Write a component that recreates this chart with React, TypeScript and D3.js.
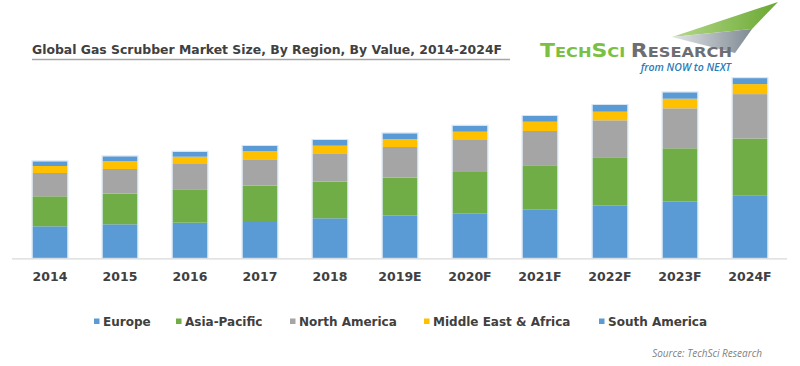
import React, { useEffect, useRef } from "react";
import * as d3 from "d3";

const years = ["2014", "2015", "2016", "2017", "2018", "2019E", "2020F", "2021F", "2022F", "2023F", "2024F"];
const europe = [32, 34, 35.6, 37.3, 40, 42.6, 45, 49, 52.6, 56.6, 62.5];
const asiaPacific = [30, 30.7, 33.4, 35.3, 36.6, 38, 41.3, 44, 48.4, 53.4, 57.3];
const northAmerica = [23.3, 24.6, 25.3, 26.4, 28.4, 30.7, 32, 34.3, 37, 40, 44.4];
const middleEastAfrica = [7, 7.7, 7.3, 8, 7.6, 8, 8.3, 9.3, 8.6, 9.6, 10];
const southAmerica = [4.7, 5, 5, 5.3, 5.7, 5.7, 6, 5.7, 6.7, 6.4, 6];

const seriesNames = ["Europe", "Asia-Pacific", "North America", "Middle East & Africa", "South America"];
const colors = ["#5b9bd5", "#70ad47", "#a5a5a5", "#ffc000", "#5b9bd5"];

const width = 800;
const height = 366;

const App = () => {
  const ref = useRef<SVGSVGElement>(null);

  useEffect(() => {
    const svg = d3.select(ref.current);
    svg.selectAll("*").remove();

    const rows = years.map((y, i) => ({
      year: y,
      "Europe": europe[i],
      "Asia-Pacific": asiaPacific[i],
      "North America": northAmerica[i],
      "Middle East & Africa": middleEastAfrica[i],
      "South America": southAmerica[i],
    }));

    const x = d3.scaleBand().domain(years).range([15, 785]).paddingInner(0.5).paddingOuter(0.25);
    const y = d3.scaleLinear().domain([0, 200]).range([258.3, 58.3]);
    const stack = d3.stack<any>().keys(seriesNames)(rows);

    // title
    svg
      .append("text")
      .attr("x", 32)
      .attr("y", 53.5)
      .attr("font-family", "DejaVu Sans")
      .attr("font-weight", "bold")
      .attr("font-size", 12.5)
      .attr("fill", "#404040")
      .attr("textLength", 470)
      .attr("lengthAdjust", "spacingAndGlyphs")
      .text("Global Gas Scrubber Market Size, By Region, By Value, 2014-2024F");
    svg
      .append("line")
      .attr("x1", 32)
      .attr("x2", 510)
      .attr("y1", 59.5)
      .attr("y2", 59.5)
      .attr("stroke", "#a6a6a6")
      .attr("stroke-width", 1.5);

    // logo
    const defs = svg.append("defs");
    const gg = defs.append("linearGradient").attr("id", "lg-green").attr("x1", 0).attr("x2", 1);
    gg.append("stop").attr("offset", 0).attr("stop-color", "#b5d98a");
    gg.append("stop").attr("offset", 1).attr("stop-color", "#6aa832");
    const gr = defs.append("linearGradient").attr("id", "lg-gray").attr("x1", 0).attr("x2", 1);
    gr.append("stop").attr("offset", 0).attr("stop-color", "#e3e6e8");
    gr.append("stop").attr("offset", 1).attr("stop-color", "#7f8a93");
    svg.append("polygon").attr("points", "672,37 778,2 752,29").attr("fill", "url(#lg-green)");
    svg.append("polygon").attr("points", "672,37 752,29 735,53").attr("fill", "url(#lg-gray)");

    const logo = svg
      .append("text")
      .attr("x", 540)
      .attr("y", 57)
      .attr("font-family", "DejaVu Sans")
      .attr("font-weight", "bold")
      .attr("textLength", 192)
      .attr("lengthAdjust", "spacingAndGlyphs");
    logo.append("tspan").attr("fill", "#7ac143").attr("font-size", 19).text("T");
    logo.append("tspan").attr("fill", "#7ac143").attr("font-size", 14).text("ECH");
    logo.append("tspan").attr("fill", "#7ac143").attr("font-size", 19).text("S");
    logo.append("tspan").attr("fill", "#7ac143").attr("font-size", 14).text("CI ");
    logo.append("tspan").attr("fill", "#6d6e71").attr("font-size", 19).text("R");
    logo.append("tspan").attr("fill", "#6d6e71").attr("font-size", 14).text("ESEARCH");
    svg
      .append("text")
      .attr("x", 731)
      .attr("y", 71)
      .attr("text-anchor", "end")
      .attr("font-family", "Open Sans")
      .attr("font-style", "italic")
      .attr("font-weight", 600)
      .attr("font-size", 10.5)
      .attr("fill", "#2b7bb9")
      .text("from NOW to NEXT");

    // bars
    svg
      .append("g")
      .selectAll("g")
      .data(stack)
      .enter()
      .append("g")
      .attr("fill", (d, i) => colors[i])
      .selectAll("rect")
      .data((d) => d)
      .enter()
      .append("rect")
      .attr("x", (d: any) => x(d.data.year)!)
      .attr("width", x.bandwidth())
      .attr("y", (d) => y(d[1]))
      .attr("height", (d) => y(d[0]) - y(d[1]));

    // faint outline around each bar
    svg
      .append("g")
      .selectAll("rect")
      .data(rows)
      .enter()
      .append("rect")
      .attr("x", (d) => x(d.year)! - 0.5)
      .attr("width", x.bandwidth() + 1)
      .attr("y", (d, i) => y(stack[4][i][1]) - 0.5)
      .attr("height", (d, i) => y(0) - y(stack[4][i][1]) + 0.5)
      .attr("fill", "none")
      .attr("stroke", "#d6e6f5")
      .attr("stroke-width", 1);

    // baseline
    svg
      .append("line")
      .attr("x1", 12)
      .attr("x2", 787)
      .attr("y1", 258.8)
      .attr("y2", 258.8)
      .attr("stroke", "#d9d9d9")
      .attr("stroke-width", 1.2);

    // x labels
    svg
      .append("g")
      .selectAll("text")
      .data(years)
      .enter()
      .append("text")
      .attr("x", (d) => x(d)! + x.bandwidth() / 2)
      .attr("y", 281)
      .attr("text-anchor", "middle")
      .attr("font-family", "DejaVu Sans")
      .attr("font-weight", "bold")
      .attr("font-size", 12.5)
      .attr("fill", "#404040")
      .text((d) => d);

    // legend
    const legendX = [94, 176, 290, 424, 599];
    const legend = svg
      .append("g")
      .selectAll("g")
      .data(seriesNames)
      .enter()
      .append("g")
      .attr("transform", (d, i) => `translate(${legendX[i]},321)`);
    legend
      .append("rect")
      .attr("x", 0)
      .attr("y", -2.5)
      .attr("width", 5.5)
      .attr("height", 5.5)
      .attr("fill", (d, i) => colors[i]);
    legend
      .append("text")
      .attr("x", 9)
      .attr("y", 4.5)
      .attr("font-family", "DejaVu Sans")
      .attr("font-weight", "bold")
      .attr("font-size", 12)
      .attr("fill", "#404040")
      .text((d) => d);

    // source
    svg
      .append("text")
      .attr("x", 762)
      .attr("y", 357)
      .attr("text-anchor", "end")
      .attr("font-family", "Open Sans")
      .attr("font-style", "italic")
      .attr("font-size", 10)
      .attr("fill", "#7f7f7f")
      .text("Source: TechSci Research");
  }, []);

  return (
    <svg
      ref={ref}
      width={width}
      height={height}
      style={{ position: "absolute", left: 0, top: 0, background: "#fff" }}
    />
  );
};

export default App;
